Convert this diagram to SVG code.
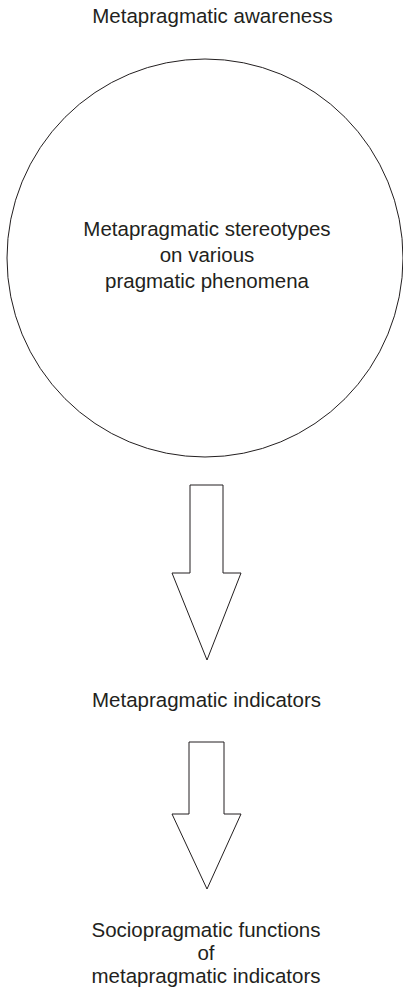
<svg xmlns="http://www.w3.org/2000/svg" width="403" height="994" viewBox="0 0 403 994">
<style>
text{font-family:"Liberation Sans",Arial,sans-serif;font-size:20.5px;fill:#231f20;text-anchor:middle}
.shape{fill:none;stroke:#231f20;stroke-width:1}
</style>
<rect width="403" height="994" fill="#ffffff"/>
<g id="title"><text x="212.5" y="22.5">Metapragmatic awareness</text></g>
<g id="stereotypes">
<ellipse class="shape" cx="205" cy="258" rx="198" ry="199"/>
<text x="207" y="236">Metapragmatic stereotypes</text>
<text x="207" y="262">on various</text>
<text x="207" y="288">pragmatic phenomena</text>
</g>
<g id="indicators"><text x="206.5" y="707">Metapragmatic indicators</text></g>
<g id="functions">
<text x="206" y="937">Sociopragmatic functions</text>
<text x="206" y="960">of</text>
<text x="206" y="983">metapragmatic indicators</text>
</g>
<g id="connectors">
<polygon class="shape" points="190,485 223,485 223,573 241,573 207,660 172,573 190,573"/>
<polygon class="shape" points="189,742 224,742 224,814 241,814 207,889 172,814 189,814"/>
</g>
</svg>
